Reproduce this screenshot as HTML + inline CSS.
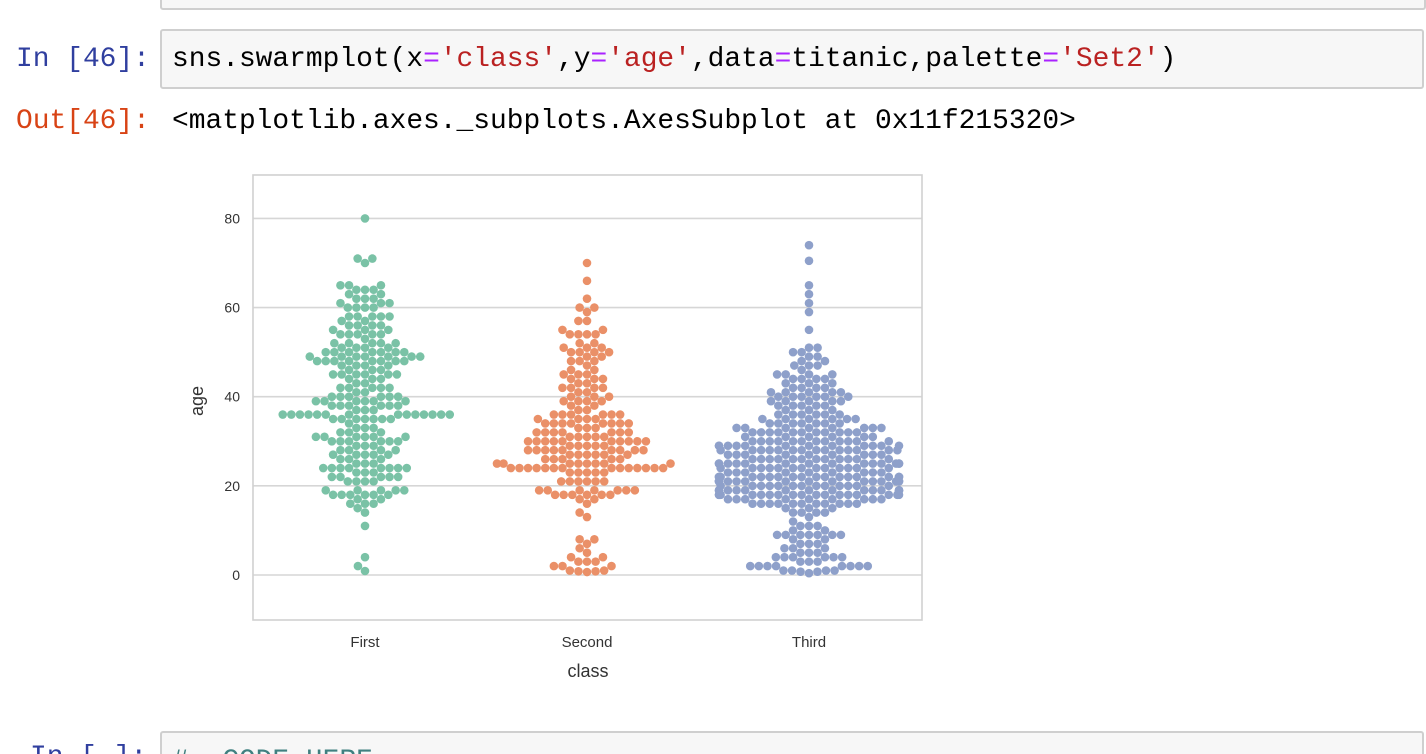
<!DOCTYPE html>
<html><head><meta charset="utf-8">
<style>
html,body{margin:0;padding:0;background:#fff;width:1426px;height:754px;overflow:hidden;position:relative}
.mono{font-family:"Liberation Mono",monospace;font-size:27.9px;position:absolute;white-space:pre;line-height:1}
.box{position:absolute;background:#f7f7f7;border:2px solid #cfcfcf;border-radius:3px}
</style></head><body>
<div class="box" style="left:160px;top:-10px;width:1262px;height:16px"></div>
<div class="mono" style="left:16px;top:46px;color:#303f9f">In [46]:</div>
<div class="box" style="left:160px;top:29px;width:1260px;height:56px"></div>
<div class="mono" style="left:172px;top:46px;color:#000">sns.swarmplot(x<span style="color:#aa22ff">=</span><span style="color:#ba2121">'class'</span>,y<span style="color:#aa22ff">=</span><span style="color:#ba2121">'age'</span>,data<span style="color:#aa22ff">=</span>titanic,palette<span style="color:#aa22ff">=</span><span style="color:#ba2121">'Set2'</span>)</div>
<div class="mono" style="left:16px;top:108px;color:#d84315">Out[46]:</div>
<div class="mono" style="left:172px;top:108px;color:#000">&lt;matplotlib.axes._subplots.AxesSubplot at 0x11f215320&gt;</div>
<div class="mono" style="left:30px;top:744px;color:#303f9f">In [ ]:</div>
<div class="box" style="left:160px;top:731px;width:1260px;height:40px"></div>
<div class="mono" style="left:172px;top:748px;color:#408080">#  CODE HERE</div>

<svg id="chart" width="1426" height="754" style="position:absolute;left:0;top:0" xmlns="http://www.w3.org/2000/svg"></svg>
<script>
const categories=["First","Second","Third"];
const yTicks=[0,20,40,60,80];
const firstAges=[0.9,2,4,11,14,15,16,17,18,19,21,22,23,24,25,26,27,28,29,30,31,32,33,34,35,36,37,38,39,40,41,42,43,44,45,46,47,48,49,50,51,52,53,54,55,56,57,58,60,61,62,63,64,65,70,71,80];
const firstCounts=[1,1,1,1,1,1,3,2,6,5,4,5,3,8,3,3,5,4,3,6,6,3,3,1,7,14,3,6,6,6,2,5,2,3,6,3,4,8,7,7,4,5,1,5,3,4,2,5,4,3,3,2,3,3,1,2,1];
const secondAges=[0.67,0.83,1,2,3,4,5,6,7,8,13,14,16,17,18,19,21,23,24,25,26,27,28,29,30,31,32,33,34,35,36,37,38,39,40,41,42,43,44,45,46,47,48,49,50,51,52,54,55,57,59,60,62,66,70];
const secondCounts=[1,2,2,3,3,2,1,1,1,2,1,1,1,2,6,7,6,5,14,8,5,6,9,5,10,5,7,3,8,4,6,2,2,4,3,2,4,2,3,3,2,1,3,2,4,3,2,4,2,2,1,2,1,1,1];
const thirdAges=[0.4,0.75,1,2,3,4,5,6,7,8,9,10,11,12,13,14,15,16,17,18,19,20,21,22,23,24,25,26,27,28,29,30,31,32,33,34,35,36,37,38,39,40,41,42,43,44,45,46,47,48,49,50,51,55,59,61,63,65,70.5,74];
const thirdCounts=[1,2,4,8,3,6,3,3,3,2,7,2,3,1,1,4,3,11,9,17,14,13,15,17,9,13,14,12,9,14,12,12,6,11,8,7,6,6,3,5,5,6,5,4,3,4,4,1,3,2,2,2,2,1,1,1,1,1,1,1];
const colors=["#7ac2a6","#ea9068","#8ea0ca"];

const svg=document.getElementById('chart');
const NS='http://www.w3.org/2000/svg';
const L=253,R=922,T=175,B=620;
const yScale=v=>575-v*4.457;
const xScale=i=>365+i*222;
function mk(tag,attrs){const e=document.createElementNS(NS,tag);for(const k in attrs)e.setAttribute(k,attrs[k]);svg.appendChild(e);return e;}
const grid=mk('g',{});


yTicks.forEach(t=>{
  const ln=document.createElementNS(NS,'line');
  ln.setAttribute('x1',L);ln.setAttribute('x2',R);ln.setAttribute('y1',yScale(t));ln.setAttribute('y2',yScale(t));
  ln.setAttribute('stroke','#d6d6d6');ln.setAttribute('stroke-width','1.6');
  
  
  grid.appendChild(ln);
  const tx=mk('text',{x:L-13,y:yScale(t)+5,'text-anchor':'end','font-family':'Liberation Sans, sans-serif','font-size':'14',fill:'#333'});
  tx.textContent=t;
  
  
});
const frame=mk('rect',{x:L,y:T,width:R-L,height:B-T,fill:'none',stroke:'#d0d0d0','stroke-width':'1.6'});


categories.forEach((c,i)=>{
  const tx=mk('text',{x:xScale(i),y:647,'text-anchor':'middle','font-family':'Liberation Sans, sans-serif','font-size':'15',fill:'#333'});
  tx.textContent=c;
  
  
});
const xt=mk('text',{x:588,y:677,'text-anchor':'middle','font-family':'Liberation Sans, sans-serif','font-size':'18',fill:'#333'});
xt.textContent='class';


const yt=mk('text',{x:0,y:0,'text-anchor':'middle','font-family':'Liberation Sans, sans-serif','font-size':'18',fill:'#333',transform:'translate(203,401) rotate(-90)'});
yt.textContent='age';



const D=8.6, r=4.3, lim=90;
function swarm(ages,counts){
  const vals=[];ages.forEach((a,k)=>{for(let j=0;j<counts[k];j++)vals.push(a);});
  vals.sort((a,b)=>a-b);
  const placed=[];
  vals.forEach(v=>{
    const y=yScale(v);
    const near=placed.filter(p=>Math.abs(p.y-y)<D);
    const cands=[0];
    near.forEach(p=>{const dx=Math.sqrt(D*D-(p.y-y)*(p.y-y));cands.push(p.x+dx,p.x-dx);});
    cands.sort((a,b)=>Math.abs(a)-Math.abs(b)||a-b);
    let x=0;
    for(const c of cands){if(near.every(p=>(p.x-c)*(p.x-c)+(p.y-y)*(p.y-y)>=D*D-0.01)){x=c;break;}}
    placed.push({x,y});
  });
  return placed;
}
[[firstAges,firstCounts],[secondAges,secondCounts],[thirdAges,thirdCounts]].forEach((s,i)=>{
  const g=mk('g',{fill:colors[i]});
  
  
  swarm(s[0],s[1]).forEach(p=>{
    const c=document.createElementNS(NS,'circle');
    c.setAttribute('cx',xScale(i)+Math.max(-lim,Math.min(lim,p.x)));
    c.setAttribute('cy',p.y);c.setAttribute('r',r);
    
    
    g.appendChild(c);
  });
});
</script>
</body></html>
